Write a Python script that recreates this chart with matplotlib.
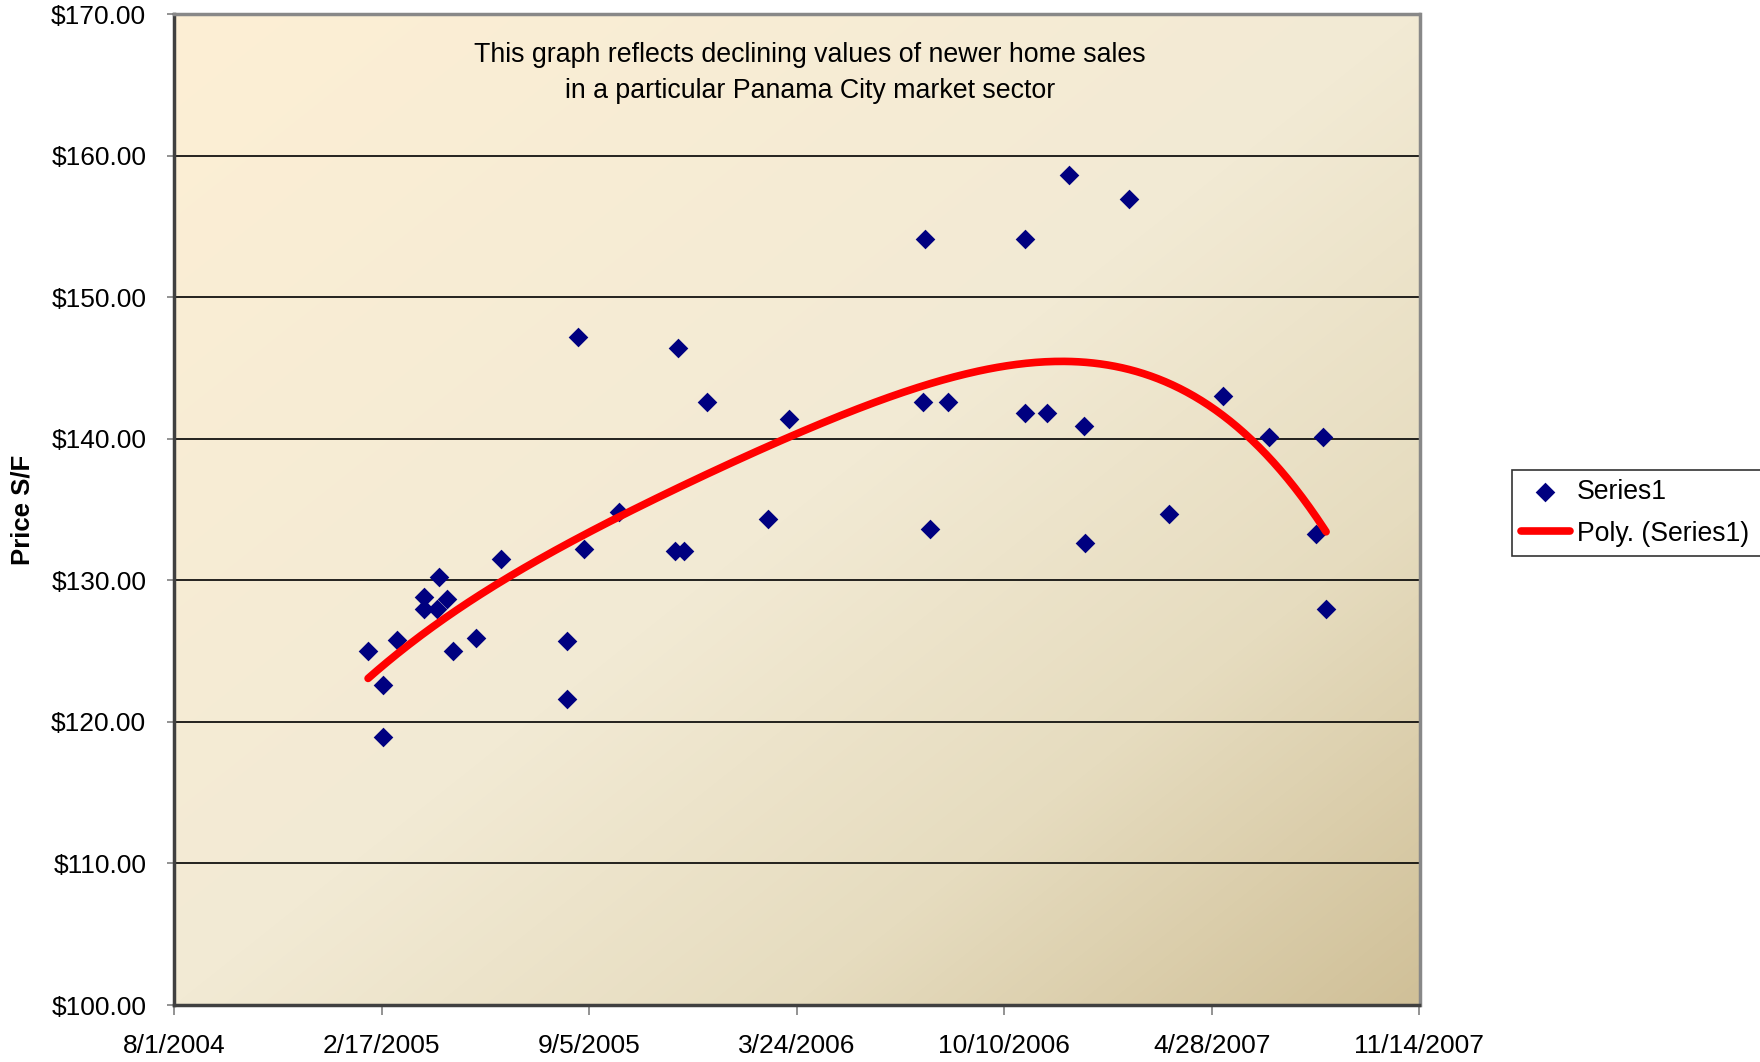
import numpy as np
import matplotlib
matplotlib.use("Agg")
import matplotlib.pyplot as plt
import matplotlib.dates as mdates
from matplotlib.colors import LinearSegmentedColormap
from matplotlib.ticker import FuncFormatter
import datetime as dt

plt.rcParams['font.family'] = ['Liberation Sans', 'DejaVu Sans']

# ---- data ----
sale_dates = ["2005-02-04", "2005-02-18", "2005-02-18", "2005-03-04", "2005-03-30",
              "2005-03-30", "2005-04-11", "2005-04-13", "2005-04-21", "2005-04-27",
              "2005-05-19", "2005-06-12", "2005-08-15", "2005-08-15", "2005-08-25",
              "2005-08-31", "2005-10-04", "2005-11-27", "2005-12-05", "2005-11-30",
              "2005-12-28", "2006-02-24", "2006-03-17", "2006-07-26", "2006-10-30",
              "2006-12-11", "2007-02-07", "2006-07-24", "2006-08-17", "2006-10-30",
              "2006-11-20", "2006-12-26", "2007-05-09", "2007-06-22", "2007-08-13",
              "2006-07-30", "2006-12-27", "2007-03-18", "2007-08-06", "2007-08-16"]
price_sf = [125.0, 122.6, 118.9, 125.8, 128.8,
            128.0, 128.0, 130.2, 128.7, 125.0,
            125.9, 131.5, 125.7, 121.6, 147.2,
            132.2, 134.8, 132.1, 132.1, 146.4,
            142.6, 134.3, 141.4, 154.1, 154.1,
            158.6, 156.9, 142.6, 142.6, 141.8,
            141.8, 140.9, 143.0, 140.1, 140.1,
            133.6, 132.6, 134.7, 133.25, 127.95]
xtick_labels = ["8/1/2004", "2/17/2005", "9/5/2005", "3/24/2006",
                "10/10/2006", "4/28/2007", "11/14/2007"]
y_min, y_max, y_step = 100, 170, 10
trend_order = 4
note_text = ("This graph reflects declining values of newer home sales\n"
             "in a particular Panama City market sector")

# ---- figure ----
fig = plt.figure(figsize=(17.6, 10.62), dpi=100)
ax = fig.add_axes([174/1760, 1-1005/1062, (1419.5-174)/1760, (1005-14)/1062])

# gradient background
cmap = LinearSegmentedColormap.from_list(
    "parch", [(0.0, "#FDEFD4"), (0.5, "#F2EAD4"), (0.75, "#E6DCBF"), (1.0, "#D0C098")])
n = 300
u = np.linspace(0, 1, n)
U, V = np.meshgrid(u, u)
T = (U + V) / 2.0
ax.imshow(T, cmap=cmap, extent=[0, 1, 0, 1], transform=ax.transAxes,
          aspect='auto', origin='upper', zorder=0, interpolation='bilinear')

xd = [dt.datetime.strptime(s, "%Y-%m-%d") for s in sale_dates]
xn = mdates.date2num(xd)
y = np.array(price_sf)

ax.scatter(xn, y, marker='D', s=10**2, color='#000080', zorder=3,
           linewidths=0, label='Series1')

# polynomial trendline (least-squares fit of the series, as in Excel)
x0 = xn.mean()
xs = np.linspace(xn.min(), xn.max(), 400)
p = np.polyfit(xn - x0, y, trend_order)
ax.plot(xs, np.polyval(p, xs - x0), color='#FF0000', lw=5.5, zorder=4,
        solid_capstyle='round', label='Poly. (Series1)')

tick_dates = [dt.datetime.strptime(s, "%m/%d/%Y") for s in xtick_labels]
tick_nums = mdates.date2num(tick_dates)
ax.set_xlim(tick_nums[0], tick_nums[-1])
ax.set_xticks(tick_nums)
ax.set_xticklabels(xtick_labels)
ax.set_ylim(y_min, y_max)
ax.set_yticks(np.arange(y_min, y_max + 1, y_step))
ax.yaxis.set_major_formatter(FuncFormatter(lambda v, p: f"${v:.2f}"))
ax.tick_params(axis='y', labelsize=19, length=5, width=1.2, color='#808080', pad=15)
ax.tick_params(axis='x', labelsize=19, length=7, width=1.2, color='#808080', pad=14)

ax.set_axisbelow(True)
ax.yaxis.grid(True, color='black', lw=1.2, zorder=1)
for side in ['left', 'bottom']:
    ax.spines[side].set_color('#404040')
    ax.spines[side].set_linewidth(2.5)
for side in ['top', 'right']:
    ax.spines[side].set_color('#888888')
    ax.spines[side].set_linewidth(2.5)

ax.set_ylabel("Price S/F", fontsize=18.5, fontweight='bold', labelpad=12)

ax.text(0.5107, 0.9405, note_text, transform=ax.transAxes, ha='center', va='center',
        fontsize=19.3, linespacing=1.5)

leg = fig.legend(loc='upper left', bbox_to_anchor=(1512/1760, 1-470/1062, 0.165, 0),
                 mode='expand',
                 fontsize=19.2, frameon=True, fancybox=False, edgecolor='black',
                 handlelength=1.85, handletextpad=0.25, borderpad=0.33, labelspacing=0.6,
                 borderaxespad=0)
leg.get_frame().set_linewidth(1.2)

fig.savefig("out.png", dpi=100)
